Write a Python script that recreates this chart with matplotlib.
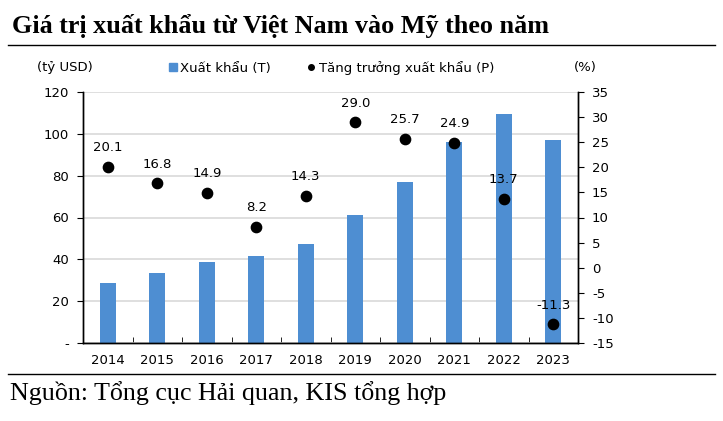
import matplotlib.pyplot as plt
from matplotlib.lines import Line2D

plt.rcParams['axes.unicode_minus'] = False

years = ['2014', '2015', '2016', '2017', '2018', '2019', '2020', '2021', '2022', '2023']
export_value = [28.6, 33.5, 38.5, 41.6, 47.5, 61.3, 77.1, 96.3, 109.4, 97.0]
growth = [20.1, 16.8, 14.9, 8.2, 14.3, 29.0, 25.7, 24.9, 13.7, -11.3]

bar_color = '#4e8ed2'

fig = plt.figure(figsize=(7.23, 4.21), dpi=100)
ax = fig.add_axes([83 / 723, 1 - 343 / 421, (578 - 83) / 723, (343 - 92) / 421])
ax2 = ax.twinx()

x = list(range(len(years)))
ax.bar(x, export_value, width=0.33, color=bar_color, zorder=2)
ax.set_xlim(-0.5, len(years) - 0.5)
ax.set_ylim(0, 120)
ax.set_yticks([0, 20, 40, 60, 80, 100, 120])
ax.set_yticklabels(['-', '20', '40', '60', '80', '100', '120'])
ax.grid(axis='y', color='#d9d9d9', linewidth=1.2, zorder=0)
ax.set_axisbelow(True)
ax.set_xticks(x)
ax.set_xticklabels(years)
ax.tick_params(axis='x', length=0, pad=8, labelsize=9.5)
ax.set_xticks([i + 0.5 for i in x[:-1]], minor=True)
ax.tick_params(axis='x', which='minor', direction='in', length=4, color='black')
ax.tick_params(axis='y', length=4, labelsize=9.5, pad=6)

ax2.scatter(x, growth, s=55, color='black', zorder=3)
for xi, g in zip(x, growth):
    ax2.annotate(f'{g:.1f}', (xi, g), xytext=(0, 9), textcoords='offset points',
                 ha='center', va='bottom', fontsize=9.5)
ax2.set_ylim(-15, 35)
ax2.set_yticks(range(-15, 36, 5))
ax2.tick_params(axis='y', length=4, labelsize=9.5, pad=6)

for a in (ax, ax2):
    a.spines['top'].set_visible(False)
    for s in ('left', 'right', 'bottom'):
        a.spines[s].set_color('black')
        a.spines[s].set_linewidth(1)

fig.text(65 / 723, 1 - 68 / 421, '(tỷ USD)', ha='center', va='center', fontsize=9.5)
fig.text(585 / 723, 1 - 68 / 421, '(%)', ha='center', va='center', fontsize=9.5)

handles = [
    Line2D([], [], marker='s', linestyle='none', color=bar_color, markersize=6),
    Line2D([], [], marker='o', linestyle='none', color='black', markersize=4),
]
fig.legend(handles, ['Xuất khẩu (T)', 'Tăng trưởng xuất khẩu (P)'], ncol=2, frameon=False,
           loc='center', bbox_to_anchor=(330 / 723, 1 - 68 / 421), fontsize=9.5,
           handletextpad=0.1, columnspacing=2.5, handlelength=1)

fig.text(12 / 723, 1 - 26 / 421, 'Giá trị xuất khẩu từ Việt Nam vào Mỹ theo năm',
         family='Liberation Serif', fontweight='bold', fontsize=18.8, ha='left', va='center')
fig.add_artist(Line2D([8 / 723, 715 / 723], [1 - 45 / 421, 1 - 45 / 421], color='black', linewidth=1))
fig.add_artist(Line2D([8 / 723, 715 / 723], [1 - 374 / 421, 1 - 374 / 421], color='black', linewidth=1))
fig.text(10 / 723, 1 - 393 / 421, 'Nguồn: Tổng cục Hải quan, KIS tổng hợp',
         family='Liberation Serif', fontsize=18.7, ha='left', va='center')

fig.savefig('out.png', dpi=100)
